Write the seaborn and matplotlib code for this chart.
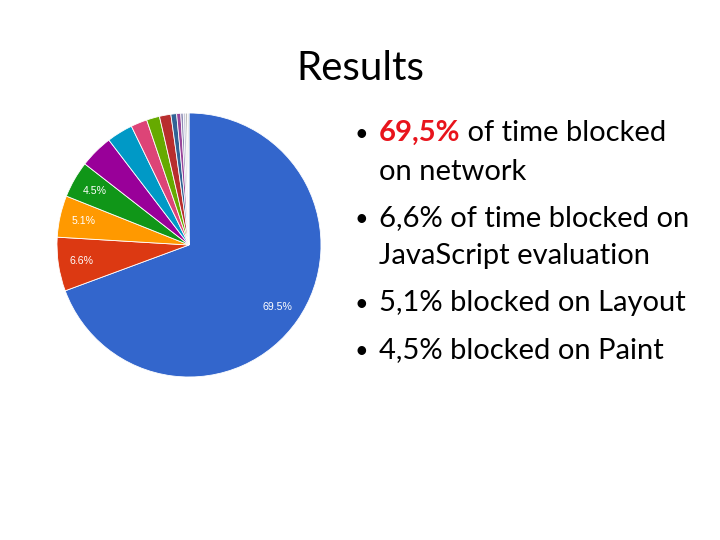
import matplotlib
matplotlib.use("Agg")
import matplotlib.pyplot as plt
import seaborn as sns

# ---- data ----
slice_values = [69.5, 6.6, 5.1, 4.5, 4.1, 3.2, 2.0, 1.6, 1.4, 0.7, 0.5, 0.3, 0.3, 0.2, 0.2]
slice_colors = ["#3366cc", "#dc3912", "#ff9900", "#109618", "#990099", "#0099c6",
                "#dd4477", "#66aa00", "#b82e2e", "#316395", "#994499", "#8c8cb4",
                "#c8c8d8", "#aaaaaa", "#dddddd"]
label_threshold = 4.3

title_text = "Results"
bullet_lines = [
    ("69,5%", " of time blocked"),
    ("", "on network"),
    (None, "6,6% of time blocked on"),
    ("", "JavaScript evaluation"),
    (None, "5,1% blocked on Layout"),
    (None, "4,5% blocked on Paint"),
]

sns.set_theme(style="white")
plt.rcParams["font.family"] = ["Lato", "DejaVu Sans"]

W, H = 720, 540
fig = plt.figure(figsize=(7.2, 5.4), dpi=100)
fig.patch.set_facecolor("white")

# pie axes
cx, cy, r = 189, 245, 132
ax = fig.add_axes([(cx - r) / W, (H - cy - r) / H, 2 * r / W, 2 * r / H])
total = sum(slice_values)

def fmt(p):
    v = p * total / 100
    return f"{v:.1f}%" if v >= label_threshold else ""

wedges, texts, autotexts = ax.pie(
    slice_values, colors=slice_colors, startangle=90, counterclock=False,
    autopct=fmt, pctdistance=0.82, radius=1.0,
    wedgeprops=dict(edgecolor="white", linewidth=0.6),
    textprops=dict(color="white", fontsize=7.6, family=["Liberation Sans", "DejaVu Sans"]),
)
ax.set_xlim(-1, 1)
ax.set_ylim(-1, 1)
ax.set_aspect("equal")
ax.axis("off")

# title
fig.text(360 / W, 1 - 80 / H, title_text, ha="center", va="baseline",
         fontsize=29, color="black")

baselines = [141, 180, 226, 264, 311, 358]
fs = 21
x_bullet = 361 / W
x_text = 379 / W
fig.canvas.draw()
renderer = fig.canvas.get_renderer()
for (lead, rest), yb in zip(bullet_lines, baselines):
    y = 1 - yb / H
    if lead is not None and lead != "":
        fig.text(x_bullet, y, "•", ha="center", va="baseline", fontsize=fs * 0.8, color="black")
        t = fig.text(x_text, y, lead, ha="left", va="baseline", fontsize=fs,
                     color="#e8141c", fontweight="bold")
        bb = t.get_window_extent(renderer=renderer)
        fig.text(bb.x1 / W, y, rest, ha="left", va="baseline", fontsize=fs, color="black")
    elif lead is None:
        fig.text(x_bullet, y, "•", ha="center", va="baseline", fontsize=fs * 0.8, color="black")
        fig.text(x_text, y, rest, ha="left", va="baseline", fontsize=fs, color="black")
    else:
        fig.text(x_text, y, rest, ha="left", va="baseline", fontsize=fs, color="black")

fig.savefig("out.png", dpi=100)
